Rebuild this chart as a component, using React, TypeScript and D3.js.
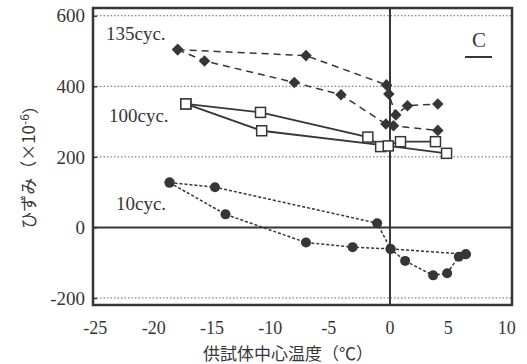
import React, { useEffect, useRef } from 'react';
import * as d3 from 'd3';

// temperature (C), strain (x10^-6)
const cyc135A = [[-18.2, 504], [-7.2, 487], [-0.3, 404], [-0.1, 378], [0.5, 319], [1.5, 345], [4.1, 350]];
const cyc135B = [[-18.2, 504], [-15.9, 472], [-8.2, 411], [-4.2, 376], [-0.35, 293], [0.3, 288], [4.1, 275]];
const cyc100A = [[-17.5, 350], [-11.1, 326], [-1.9, 256], [-0.8, 229], [0.9, 243], [3.9, 243]];
const cyc100B = [[-17.5, 350], [-11.0, 274], [-0.15, 231], [4.85, 210]];
const cyc10A = [[-18.9, 127], [-15.0, 114], [-1.1, 12], [0.05, -61], [1.3, -95], [3.7, -136], [4.9, -130], [5.9, -83], [6.5, -76]];
const cyc10B = [[-18.9, 127], [-14.1, 37], [-7.2, -43], [-3.2, -56], [0.05, -61], [6.5, -76]];

const xTicks = [-25, -20, -15, -10, -5, 0, 5, 10];
const yTicks = [-200, 0, 200, 400, 600];
const gridValues = [-200, 200, 400, 600];

const W = 527;
const H = 364;
const left = 93, right = 512, top = 8, bottom = 305;
const ink = '#363636';
const serif = '"Liberation Serif", "DejaVu Serif", serif';
const jp = '"Noto Sans CJK JP", sans-serif';

export default function App() {
    const ref = useRef<SVGSVGElement>(null);

    useEffect(() => {
        const svg = d3.select(ref.current);
        svg.selectAll('*').remove();

        const x = d3.scaleLinear().domain([-25.46, 10.46]).range([left, right]);
        const y = d3.scaleLinear().domain([-220, 622]).range([bottom, top]);

        // dotted grid
        svg.append('g')
            .selectAll('line')
            .data(gridValues)
            .join('line')
                .attr('x1', left).attr('x2', right)
                .attr('y1', d => y(d)).attr('y2', d => y(d))
                .attr('stroke', '#666').attr('stroke-width', 1)
                .attr('stroke-dasharray', '1.5,2');

        // zero lines
        svg.append('line')
            .attr('x1', left).attr('x2', right)
            .attr('y1', y(0)).attr('y2', y(0))
            .attr('stroke', ink).attr('stroke-width', 2);
        svg.append('line')
            .attr('x1', x(0)).attr('x2', x(0))
            .attr('y1', top).attr('y2', bottom)
            .attr('stroke', ink).attr('stroke-width', 2);

        // frame
        svg.append('rect')
            .attr('x', left).attr('y', top)
            .attr('width', right - left).attr('height', bottom - top)
            .attr('fill', 'none').attr('stroke', ink).attr('stroke-width', 2.5);

        // y axis
        const yAxis = svg.append('g')
            .attr('transform', `translate(${left},0)`)
            .call(d3.axisRight(y).tickValues(yTicks).tickSize(4).tickFormat(() => ''));
        yAxis.select('.domain').remove();
        yAxis.selectAll('line').attr('stroke', ink).attr('stroke-width', 1.5);

        svg.append('g')
            .selectAll('text')
            .data(yTicks)
            .join('text')
                .attr('x', left - 8)
                .attr('y', d => y(d))
                .attr('dy', '0.35em')
                .attr('text-anchor', 'end')
                .attr('font-family', serif).attr('font-size', 19)
                .attr('fill', ink)
                .text(d => d);

        // x axis labels
        svg.append('g')
            .selectAll('text')
            .data(xTicks)
            .join('text')
                .attr('x', d => x(d) - (d < 0 ? 3 : 0))
                .attr('y', 328)
                .attr('dy', '0.35em')
                .attr('text-anchor', 'middle')
                .attr('font-family', serif).attr('font-size', 18)
                .attr('fill', ink)
                .text(d => d);

        svg.append('text')
            .attr('x', 288).attr('y', 354)
            .attr('dy', '0.35em')
            .attr('text-anchor', 'middle')
            .attr('font-family', jp).attr('font-size', 17)
            .attr('fill', ink)
            .text('供試体中心温度（℃）');

        const yt = svg.append('text')
            .attr('transform', 'translate(29,163) rotate(-90)')
            .attr('text-anchor', 'middle')
            .attr('dy', '0.35em')
            .attr('font-family', jp).attr('font-size', 17)
            .attr('fill', ink);
        yt.append('tspan').text('ひずみ（×10');
        yt.append('tspan').attr('dy', '-0.5em').attr('font-size', 12).text('-6');
        yt.append('tspan').attr('dy', '0.5em').text('）');

        const line = d3.line<number[]>().x(d => x(d[0])).y(d => y(d[1]));

        const series = [
            { data: [cyc10A, cyc10B], dash: '3,2', width: 1.5, shape: 'circle' },
            { data: [cyc100A, cyc100B], dash: null, width: 1.8, shape: 'square' },
            { data: [cyc135A, cyc135B], dash: '7,5', width: 1.5, shape: 'diamond' },
        ];

        series.forEach(s => {
            s.data.forEach(pts => {
                svg.append('path')
                    .datum(pts)
                    .attr('d', line)
                    .attr('fill', 'none')
                    .attr('stroke', ink)
                    .attr('stroke-width', s.width)
                    .attr('stroke-dasharray', s.dash);
            });
        });

        series.forEach(s => {
            const pts = s.data.flat();
            const g = svg.append('g');
            if (s.shape === 'circle') {
                g.selectAll('circle').data(pts).join('circle')
                    .attr('cx', d => x(d[0])).attr('cy', d => y(d[1]))
                    .attr('r', 5).attr('fill', ink);
            } else if (s.shape === 'square') {
                g.selectAll('rect').data(pts).join('rect')
                    .attr('x', d => x(d[0]) - 5).attr('y', d => y(d[1]) - 5)
                    .attr('width', 10).attr('height', 10)
                    .attr('fill', '#fff').attr('stroke', ink).attr('stroke-width', 1.5);
            } else {
                g.selectAll('path').data(pts).join('path')
                    .attr('d', d3.symbol(d3.symbolDiamond2, 85))
                    .attr('transform', d => `translate(${x(d[0])},${y(d[1])})`)
                    .attr('fill', ink);
            }
        });

        // series labels
        const labels = [
            { text: '135cyc.', x: 106, y: 33 },
            { text: '100cyc.', x: 109, y: 115 },
            { text: '10cyc.', x: 116, y: 203 },
        ];
        svg.append('g')
            .selectAll('text')
            .data(labels)
            .join('text')
                .attr('x', d => d.x).attr('y', d => d.y)
                .attr('dy', '0.35em')
                .attr('font-family', serif).attr('font-size', 19)
                .attr('fill', ink)
                .text(d => d.text);

        // panel mark
        svg.append('text')
            .attr('x', 479).attr('y', 40)
            .attr('dy', '0.35em')
            .attr('text-anchor', 'middle')
            .attr('font-family', serif).attr('font-size', 21)
            .attr('fill', ink)
            .text('C');
        svg.append('line')
            .attr('x1', 465).attr('x2', 492)
            .attr('y1', 57).attr('y2', 57)
            .attr('stroke', ink).attr('stroke-width', 2);
    }, []);

    return (
        <svg ref={ref} width={W} height={H}
            style={{ position: 'absolute', left: 0, top: 0, background: '#fff' }} />
    );
}
